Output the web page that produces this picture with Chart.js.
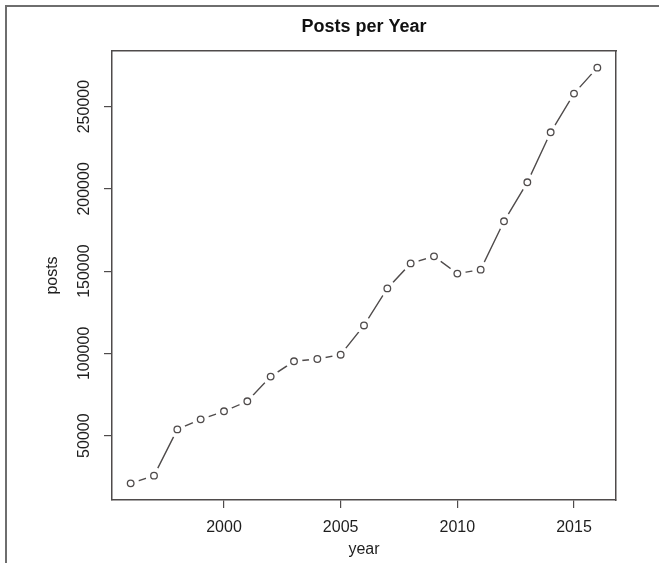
<!DOCTYPE html>
<html>
<head>
<meta charset="utf-8">
<title>Posts per Year</title>
<script src="https://cdn.jsdelivr.net/npm/chart.js@4.4.1/dist/chart.umd.min.js"></script>
<style>
    html, body { margin: 0; padding: 0; background: #fff; }
    #wrap { position: relative; width: 659px; height: 563px; }
    #frame {
        position: absolute; left: 5px; top: 5px; right: 0; bottom: 0;
        border-left: 2px solid #6e6e6e; border-top: 2px solid #6e6e6e;
        pointer-events: none;
    }
    canvas { position: absolute; left: 0; top: 0; }
</style>
</head>
<body>
<div id="wrap">
    <canvas id="postsChart" width="659" height="563"></canvas>
    <div id="frame"></div>
</div>
<script>
const years = [1996, 1997, 1998, 1999, 2000, 2001, 2002, 2003, 2004, 2005, 2006,
               2007, 2008, 2009, 2010, 2011, 2012, 2013, 2014, 2015, 2016];
const posts = [21000, 25700, 53800, 59900, 64800, 70900, 85900, 95200, 96600, 99200, 117000,
               139500, 154700, 159000, 148500, 150900, 180300, 204000, 234400, 257900, 273700];
const xTicks = [2000, 2005, 2010, 2015];
const yTicks = [50000, 100000, 150000, 200000, 250000];

const ink = '#4f4b4b';
const textInk = '#1e1e1e';
const fontFamily = '"Liberation Sans", Arial, Helvetica, sans-serif';

// R-style axis ranges: data range padded by 4% on each side
const pad = (lo, hi) => [lo - (hi - lo) * 0.04, hi + (hi - lo) * 0.04];
const [xMin, xMax] = pad(Math.min(...years), Math.max(...years));
const [yMin, yMax] = pad(Math.min(...posts), Math.max(...posts));

const toPoints = () => years.map((y, i) => ({ x: y, y: posts[i] }));

const fixedTicks = (list) => (scale) => {
    scale.ticks = list.map(v => ({ value: v }));
};

const ctx = document.getElementById('postsChart').getContext('2d');

new Chart(ctx, {
    type: 'line',
    data: {
        datasets: [
            {
                // open circles, on top
                data: toPoints(),
                showLine: false,
                pointStyle: 'circle',
                pointRadius: 3.3,
                pointBorderWidth: 1.3,
                pointBorderColor: ink,
                pointBackgroundColor: '#ffffff',
                order: 0
            },
            {
                // white disks that break the line around each point (type "b")
                data: toPoints(),
                showLine: false,
                pointStyle: 'circle',
                pointRadius: 8.5,
                pointBorderWidth: 0,
                pointBackgroundColor: '#ffffff',
                order: 1
            },
            {
                // connecting line
                data: toPoints(),
                borderColor: ink,
                borderWidth: 1.4,
                tension: 0,
                pointRadius: 0,
                order: 2
            }
        ]
    },
    options: {
        responsive: false,
        animation: false,
        events: [],
        layout: { padding: 0 },
        plugins: {
            legend: { display: false },
            tooltip: { enabled: false },
            title: {
                display: true,
                text: 'Posts per Year',
                fullSize: false,
                color: '#111111',
                font: { family: fontFamily, size: 18, weight: 'bold' },
                padding: { top: 16, bottom: 13.4 }
            }
        },
        scales: {
            x: {
                type: 'linear',
                position: 'bottom',
                min: xMin,
                max: xMax,
                afterBuildTicks: fixedTicks(xTicks),
                afterFit: (scale) => { scale.height = 63; },
                border: { display: true, color: ink, width: 1.5 },
                grid: { drawOnChartArea: false, drawTicks: true, tickLength: 8, tickColor: ink, lineWidth: 1.2 },
                ticks: {
                    autoSkip: false,
                    maxRotation: 0,
                    padding: 10,
                    color: textInk,
                    font: { family: fontFamily, size: 16 },
                    callback: (v) => String(v)
                },
                title: {
                    display: true,
                    text: 'year',
                    color: textInk,
                    font: { family: fontFamily, size: 16 },
                    padding: { top: 0, bottom: 4 }
                }
            },
            y: {
                type: 'linear',
                position: 'left',
                min: yMin,
                max: yMax,
                afterBuildTicks: fixedTicks(yTicks),
                afterFit: (scale) => { scale.width = 112; },
                border: { display: true, color: ink, width: 1.5 },
                grid: { drawOnChartArea: false, drawTicks: true, tickLength: 8, tickColor: ink, lineWidth: 1.2 },
                ticks: {
                    autoSkip: false,
                    minRotation: 90,
                    maxRotation: 90,
                    crossAlign: 'center',
                    padding: -7,
                    color: textInk,
                    font: { family: fontFamily, size: 16 },
                    callback: (v) => String(v)
                },
                title: {
                    display: true,
                    text: 'posts',
                    color: textInk,
                    font: { family: fontFamily, size: 16 },
                    padding: { top: 43, bottom: 0 }
                }
            },
            // top and right edges of the plot box
            x2: {
                type: 'linear',
                position: 'top',
                afterFit: (scale) => { scale.height = 0; },
                border: { display: true, color: ink, width: 1.5 },
                grid: { drawOnChartArea: false, drawTicks: false },
                ticks: { display: false }
            },
            y2: {
                type: 'linear',
                position: 'right',
                afterFit: (scale) => { scale.width = 43; },
                border: { display: true, color: ink, width: 1.5 },
                grid: { drawOnChartArea: false, drawTicks: false },
                ticks: { display: false }
            }
        }
    }
});
</script>
</body>
</html>
